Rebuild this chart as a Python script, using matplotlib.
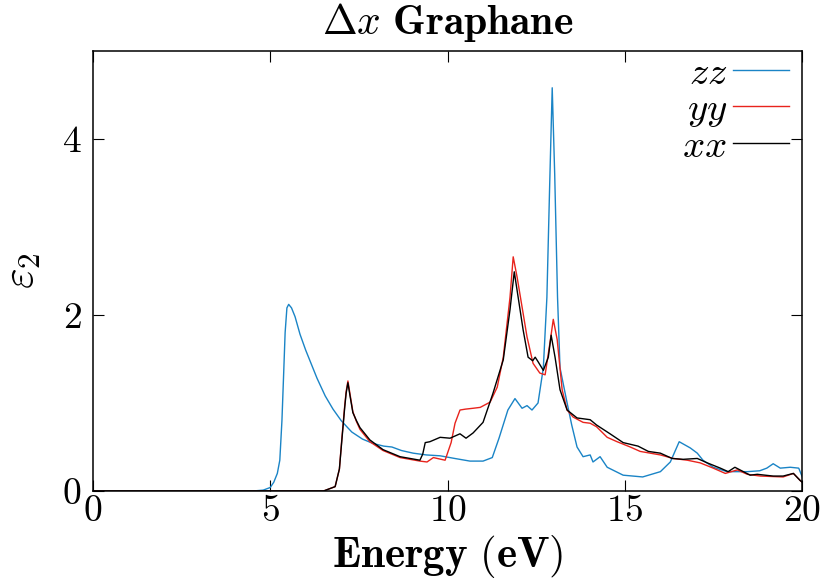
import numpy as np
import matplotlib
matplotlib.use("Agg")
import matplotlib.pyplot as plt

plt.rcParams['font.family'] = 'cmr10'
plt.rcParams['mathtext.fontset'] = 'cm'
plt.rcParams['axes.formatter.use_mathtext'] = True

# epsilon_2 along zz
e_zz = [0, 4.5, 4.8, 5.0, 5.1, 5.2, 5.27, 5.33, 5.38, 5.42,
        5.47, 5.52, 5.6, 5.7, 5.84, 6.0, 6.32, 6.55, 6.77, 7.0,
        7.16, 7.3, 7.45, 7.6, 7.9, 8.2, 8.43, 8.7, 9.03, 9.4,
        9.79, 10.2, 10.63, 11.0, 11.26, 11.45, 11.7, 11.9, 12.1, 12.24,
        12.38, 12.55, 12.7, 12.8, 12.88, 12.95, 13.02, 13.1, 13.17, 13.37,
        13.5, 13.65, 13.82, 14.02, 14.1, 14.3, 14.5, 14.95, 15.5, 16.0,
        16.28, 16.53, 16.84, 17.04, 17.2, 17.49, 17.88, 18.45, 18.8, 19.0,
        19.18, 19.38, 19.66, 19.9, 20.0]
zz = [0, 0, 0.01, 0.04, 0.1, 0.2, 0.35, 0.8, 1.35, 1.8,
      2.08, 2.12, 2.08, 1.98, 1.78, 1.6, 1.28, 1.08, 0.93, 0.8,
      0.73, 0.67, 0.63, 0.59, 0.54, 0.51, 0.5, 0.46, 0.43, 0.41,
      0.4, 0.37, 0.34, 0.34, 0.38, 0.6, 0.92, 1.05, 0.94, 0.97,
      0.92, 1.0, 1.4, 2.2, 3.5, 4.58, 3.6, 2.2, 1.4, 1.0,
      0.75, 0.5, 0.39, 0.41, 0.33, 0.39, 0.27, 0.18, 0.16, 0.22,
      0.33, 0.56, 0.49, 0.43, 0.35, 0.27, 0.22, 0.22, 0.23, 0.26,
      0.31, 0.26, 0.27, 0.26, 0.16]

# epsilon_2 along yy
e_yy = [0, 6.5, 6.83, 6.95, 7.02, 7.1, 7.14, 7.19, 7.25, 7.33,
        7.43, 7.53, 7.81, 8.18, 8.66, 9.22, 9.42, 9.6, 9.93, 10.1,
        10.21, 10.35, 10.5, 10.72, 10.92, 11.2, 11.4, 11.57, 11.76, 11.85,
        11.96, 12.1, 12.24, 12.41, 12.6, 12.75, 12.9, 12.98, 13.09, 13.23,
        13.37, 13.54, 13.82, 14.02, 14.2, 14.5, 14.78, 15.15, 15.43, 16.0,
        16.36, 16.76, 17.12, 17.49, 17.83, 18.17, 18.45, 18.82, 19.46, 19.75,
        19.94, 20.0]
yy = [0, 0, 0.05, 0.25, 0.6, 0.97, 1.13, 1.25, 1.1, 0.9,
      0.79, 0.7, 0.56, 0.46, 0.38, 0.34, 0.33, 0.38, 0.35, 0.55,
      0.77, 0.92, 0.93, 0.94, 0.95, 1.01, 1.18, 1.52, 2.2, 2.66,
      2.43, 2.09, 1.75, 1.45, 1.34, 1.32, 1.72, 1.95, 1.72, 1.15,
      0.92, 0.84, 0.78, 0.77, 0.73, 0.61, 0.56, 0.5, 0.45, 0.41,
      0.37, 0.35, 0.32, 0.26, 0.2, 0.24, 0.19, 0.17, 0.16, 0.2,
      0.12, 0.1]

# epsilon_2 along xx
e_xx = [0, 6.5, 6.83, 6.95, 7.02, 7.1, 7.14, 7.19, 7.25, 7.33,
        7.43, 7.53, 7.81, 8.18, 8.66, 9.22, 9.3, 9.37, 9.5, 9.79,
        10.07, 10.35, 10.52, 10.72, 11.0, 11.28, 11.57, 11.76, 11.88, 11.99,
        12.13, 12.27, 12.4, 12.47, 12.55, 12.7, 12.84, 12.92, 13.03, 13.17,
        13.37, 13.65, 14.02, 14.2, 14.58, 14.95, 15.37, 15.66, 16.0, 16.33,
        16.64, 17.04, 17.32, 17.69, 17.91, 18.1, 18.34, 18.53, 18.73, 19.18,
        19.46, 19.75, 19.94, 20.0]
xx = [0, 0, 0.05, 0.25, 0.58, 0.95, 1.11, 1.23, 1.08, 0.89,
      0.8, 0.72, 0.58, 0.47, 0.39, 0.35, 0.42, 0.55, 0.56, 0.61,
      0.6, 0.65, 0.6, 0.66, 0.78, 1.11, 1.49, 2.06, 2.49, 2.2,
      1.83, 1.52, 1.48, 1.52, 1.47, 1.37, 1.52, 1.77, 1.52, 1.15,
      0.92, 0.83, 0.81, 0.75, 0.65, 0.55, 0.51, 0.45, 0.43, 0.37,
      0.36, 0.37, 0.32, 0.26, 0.22, 0.27, 0.22, 0.18, 0.19, 0.17,
      0.17, 0.2, 0.12, 0.1]

fig = plt.figure(figsize=(8.22, 5.8), dpi=100)
ax = fig.add_axes([0.113, 0.1534, 0.863, 0.759])

ax.plot(e_zz, zz, color='#1a84c6', lw=1.0, label=r'$zz$')
ax.plot(e_yy, yy, color='#e8231c', lw=1.0, label=r'$yy$')
ax.plot(e_xx, xx, color='black', lw=1.0, label=r'$xx$')

ax.set_xlim(0, 20)
ax.set_ylim(0, 5)
ax.set_xticks([0, 5, 10, 15, 20])
ax.set_yticks([0, 2, 4])
ax.tick_params(direction='in', top=True, right=True, length=8, width=0.8,
               labelsize=27)
ax.tick_params(axis='x', pad=3)
ax.tick_params(axis='y', pad=8)
for s in ax.spines.values():
    s.set_linewidth(1.1)

ax.set_title(r'$\Delta x\ \mathbf{Graphane}$', fontsize=30, pad=12)
ax.set_xlabel(r'$\mathbf{Energy\ (eV)}$', fontsize=31, labelpad=3)
ax.set_ylabel(r'$\varepsilon_2$', fontsize=32, labelpad=14)

ax.legend(loc='upper right', bbox_to_anchor=(0.995, 1.01), frameon=False,
          markerfirst=False, fontsize=28, handlelength=1.45, handletextpad=0.15,
          labelspacing=0.0, borderaxespad=0.15, borderpad=0.1)

fig.savefig('out.png', dpi=100)
